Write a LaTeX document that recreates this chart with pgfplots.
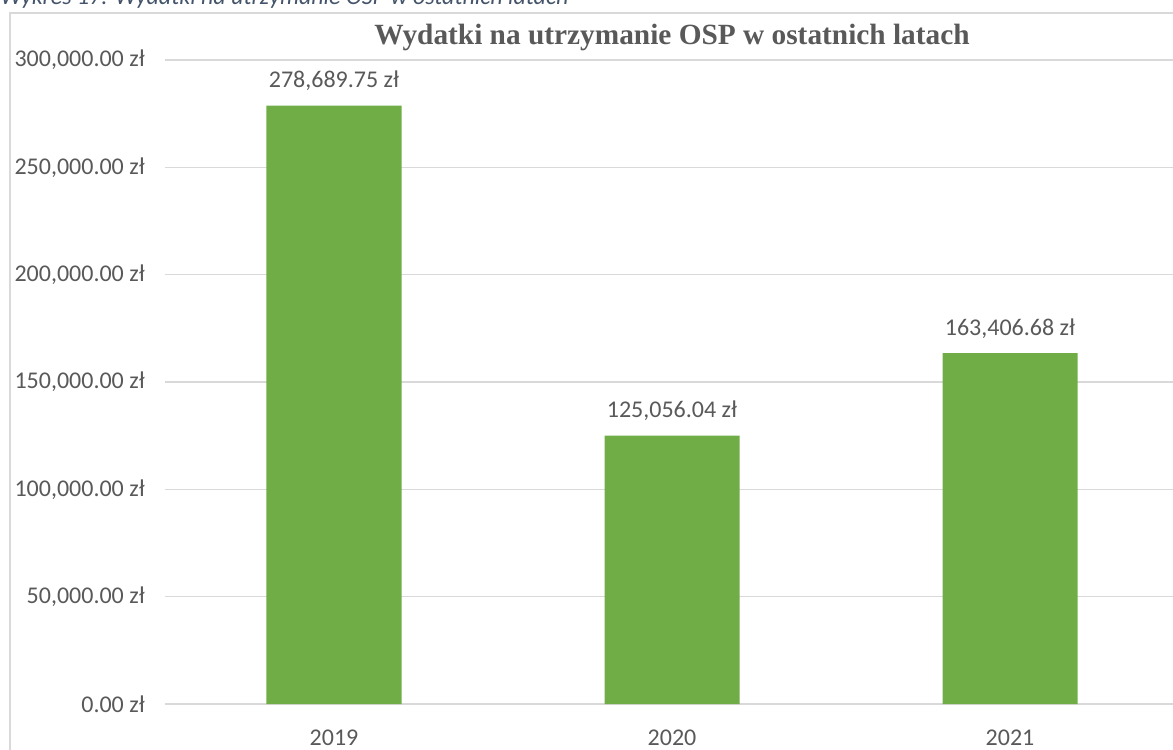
\documentclass[border=0pt]{standalone}
\usepackage{pgfplots}
\pgfplotsset{compat=1.18}
\usepackage{fontspec}
\setmainfont{Carlito}
\newfontfamily\titlefont{Liberation Serif}
\definecolor{bargreen}{HTML}{70AD47}
\definecolor{txtgray}{HTML}{595959}
\definecolor{gridgray}{HTML}{D9D9D9}
\definecolor{capblue}{HTML}{44546A}
\pgfkeys{/pgf/number format/assume math mode=true}
\begin{document}
\begin{tikzpicture}
\begin{axis}[
    at={(0,0)}, anchor=south west,
    scale only axis,
    width=760.5pt, height=483pt,
    xmin=-0.5, xmax=2.5,
    ymin=0, ymax=300000,
    ytick={0,50000,...,300000},
    xtick=data,
    xticklabels={2019,2020,2021},
    axis line style={draw=none},
    major tick length=0pt,
    ymajorgrids=true,
    grid style={gridgray, line width=1pt},
    scaled y ticks=false,
    yticklabel={\pgfmathprintnumber[fixed,fixed zerofill,precision=2,1000 sep={,}]{\tick}~zł},
    yticklabel style={anchor=east, inner sep=0pt, xshift=-15pt},
    xticklabel style={anchor=base, inner sep=0pt, yshift=-30.75pt},
    ticklabel style={font=\fontsize{18}{20}\selectfont, text=txtgray},
    clip=false,
    title={\titlefont\bfseries Wydatki na utrzymanie OSP w ostatnich latach},
    title style={at={(0.5,1)}, anchor=base, yshift=5.25pt, inner sep=0pt,
        font=\fontsize{22}{24}\selectfont, text=txtgray},
]
\addplot[ybar, bar width=101.25pt, fill=bargreen, draw=none,
    point meta=explicit symbolic,
    nodes near coords,
    every node near coord/.append style={anchor=base, inner sep=0pt, yshift=13.5pt,
        font=\fontsize{18}{20}\selectfont, text=txtgray}]
    coordinates {
    (0,278689.75) [278,689.75 zł]
    (1,125056.04) [125,056.04 zł]
    (2,163406.68) [163,406.68 zł]
};
\end{axis}
\draw[gridgray, line width=1.1pt] (-116.25pt,-40pt) -- (-116.25pt,518.25pt) -- (760pt,518.25pt);
\node[anchor=base west, inner sep=0pt, text=capblue, font=\fontsize{18}{20}\selectfont\itshape]
    at (-123.75pt,524.25pt) {Wykres 17: Wydatki na utrzymanie OSP w ostatnich latach};
\pgfresetboundingbox
\path[use as bounding box] (-123.75pt,-33.75pt) rectangle (756pt,528pt);
\end{tikzpicture}
\end{document}
